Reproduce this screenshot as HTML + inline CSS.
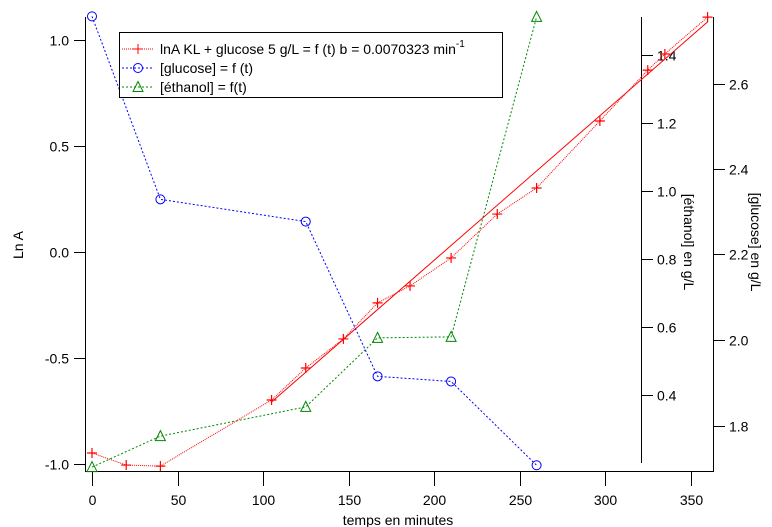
<!DOCTYPE html>
<html><head><meta charset="utf-8"><style>
html,body{margin:0;padding:0;background:#fff;}
svg{display:block;font-family:"Liberation Sans",Arial,sans-serif;}
</style></head><body>
<svg id="chart" width="772" height="527" viewBox="0 0 772 527" xmlns="http://www.w3.org/2000/svg">
<g id="axes"></g>
<g id="series"></g>
<g>
  <rect x="119.5" y="32.5" width="383" height="65" fill="#fff" stroke="#000" stroke-width="1"/>
  <g>
    <line x1="122" y1="49" x2="153" y2="49" stroke="#f00" stroke-dasharray="1,1"/>
    <path d="M133 49h10M138 44v10" stroke="#f00"/>
    <text x="160" y="54" font-size="14">lnA KL + glucose 5 g/L = f (t) b = 0.0070323 min<tspan font-size="10" dy="-7">-1</tspan></text>
  </g>
  <g>
    <line x1="122" y1="68" x2="153" y2="68" stroke="#00f" stroke-dasharray="2,2"/>
    <circle cx="138" cy="68" r="4.5" fill="none" stroke="#00f"/>
    <text x="160" y="73" font-size="14">[glucose] = f (t)</text>
  </g>
  <g>
    <line x1="122" y1="87" x2="153" y2="87" stroke="#080" stroke-dasharray="2,2"/>
    <path d="M138 81.5L143 91.5H133Z" fill="none" stroke="#080"/>
    <text x="160" y="92" font-size="14">[éthanol] = f(t)</text>
  </g>
</g>
</svg>
<script>
const timesLnA = [0,20,40,105,125,147,167,186,210,237,260,297,325,335,360];
const valuesLnA = [-0.948,-1.005,-1.01,-0.698,-0.547,-0.41,-0.24,-0.16,-0.028,0.179,0.302,0.618,0.858,0.934,1.108];
const timesGlucose = [0,40,125,167,210,260];
const valuesGlucose = [2.757,2.329,2.277,1.915,1.903,1.707];
const timesEthanol = [0,40,125,167,210,260];
const valuesEthanol = [0.188,0.279,0.365,0.568,0.571,1.512];
const fitSlope = 0.0070323;
const fitIntercept = -1.446;
const fitRange = [105,360];
const xTicks = [0,50,100,150,200,250,300,350];
const lnTicks = [-1.0,-0.5,0.0,0.5,1.0];
const ethTicks = [0.4,0.6,0.8,1.0,1.2,1.4];
const gluTicks = [1.8,2.0,2.2,2.4,2.6];

const NS='http://www.w3.org/2000/svg';
const xs = t => 92 + t*1.71;
const yLn = v => 252 - v*212;
const yEth = v => 55 - (v-1.4)*340;
const yGlu = v => 83.5 - (v-2.6)*427.5;
function mk(parent, tag, attrs){const e=document.createElementNS(NS,tag);for(const k in attrs)e.setAttribute(k,attrs[k]);parent.appendChild(e);return e;}
const axes=document.getElementById('axes'), series=document.getElementById('series');

// axis lines
let a;
a=mk(axes,'line',{x1:85.5,y1:17,x2:85.5,y2:472,stroke:'#000'});


a=mk(axes,'line',{x1:85.5,y1:471.5,x2:713.5,y2:471.5,stroke:'#000'});


a=mk(axes,'line',{x1:713.5,y1:17,x2:713.5,y2:472,stroke:'#000'});


a=mk(axes,'line',{x1:641.5,y1:17,x2:641.5,y2:463,stroke:'#000'});



xTicks.forEach(t=>{const x=Math.round(xs(t))+0.5;
  mk(axes,'line',{x1:x,y1:472,x2:x,y2:486,stroke:'#000'});
  const tx=mk(axes,'text',{x:x,y:505,'font-size':14,'text-anchor':'middle'});tx.textContent=t;
  
  
});
lnTicks.forEach(v=>{const y=Math.round(yLn(v))+0.5;
  mk(axes,'line',{x1:74,y1:y,x2:86,y2:y,stroke:'#000'});
  const tx=mk(axes,'text',{x:69,y:y+5,'font-size':14,'text-anchor':'end'});tx.textContent=v.toFixed(1);
  
  
});
ethTicks.forEach(v=>{const y=Math.round(yEth(v))+0.5;
  mk(axes,'line',{x1:641,y1:y,x2:653,y2:y,stroke:'#000'});
  const tx=mk(axes,'text',{x:657,y:y+5,'font-size':14});tx.textContent=v.toFixed(1);
  
  
});
gluTicks.forEach(v=>{const y=Math.round(yGlu(v))+0.5;
  mk(axes,'line',{x1:713,y1:y,x2:725,y2:y,stroke:'#000'});
  const tx=mk(axes,'text',{x:729,y:y+5,'font-size':14});tx.textContent=v.toFixed(1);
  
  
});
let ttl;
ttl=mk(axes,'text',{x:398,y:525,'font-size':14,'text-anchor':'middle'});ttl.textContent='temps en minutes';


ttl=mk(axes,'text',{x:0,y:0,'font-size':14,'text-anchor':'middle',transform:'translate(23,245) rotate(-90)'});ttl.textContent='Ln A';


ttl=mk(axes,'text',{x:0,y:0,'font-size':14,'text-anchor':'middle',transform:'translate(684,242) rotate(90)'});ttl.textContent='[éthanol] en g/L';


ttl=mk(axes,'text',{x:0,y:0,'font-size':14,'text-anchor':'middle',transform:'translate(751,242) rotate(90)'});ttl.textContent='[glucose] en g/L';



// fit line
const fit=mk(series,'line',{x1:xs(fitRange[0]),y1:yLn(fitIntercept+fitSlope*fitRange[0]),x2:xs(fitRange[1]),y2:yLn(fitIntercept+fitSlope*fitRange[1]),stroke:'#f00','stroke-width':1});



function drawSeries(times,vals,yf,color,dash,marker,name){
  const pts=times.map((t,i)=>[xs(t),yf(vals[i])]);
  const pl=mk(series,'polyline',{points:pts.map(p=>p.join(',')).join(' '),fill:'none',stroke:color,'stroke-dasharray':dash});
  
  
  pts.forEach(([x,y])=>{let m;
    if(marker==='plus') m=mk(series,'path',{d:`M${x-5} ${y}h10M${x} ${y-5}v10`,stroke:color,fill:'none','stroke-width':1.2});
    else if(marker==='circle') m=mk(series,'circle',{cx:x,cy:y,r:4.5,fill:'none',stroke:color});
    else m=mk(series,'path',{d:`M${x} ${y-5.5}L${x+5} ${y+4.5}H${x-5}Z`,fill:'none',stroke:color});
    
    
  });
}
drawSeries(timesEthanol,valuesEthanol,yEth,'#080','2,2','tri','ethanol');
drawSeries(timesGlucose,valuesGlucose,yGlu,'#00f','2,2','circle','glucose');
drawSeries(timesLnA,valuesLnA,yLn,'#f00','1,1','plus','lna');
</script>
</body></html>
